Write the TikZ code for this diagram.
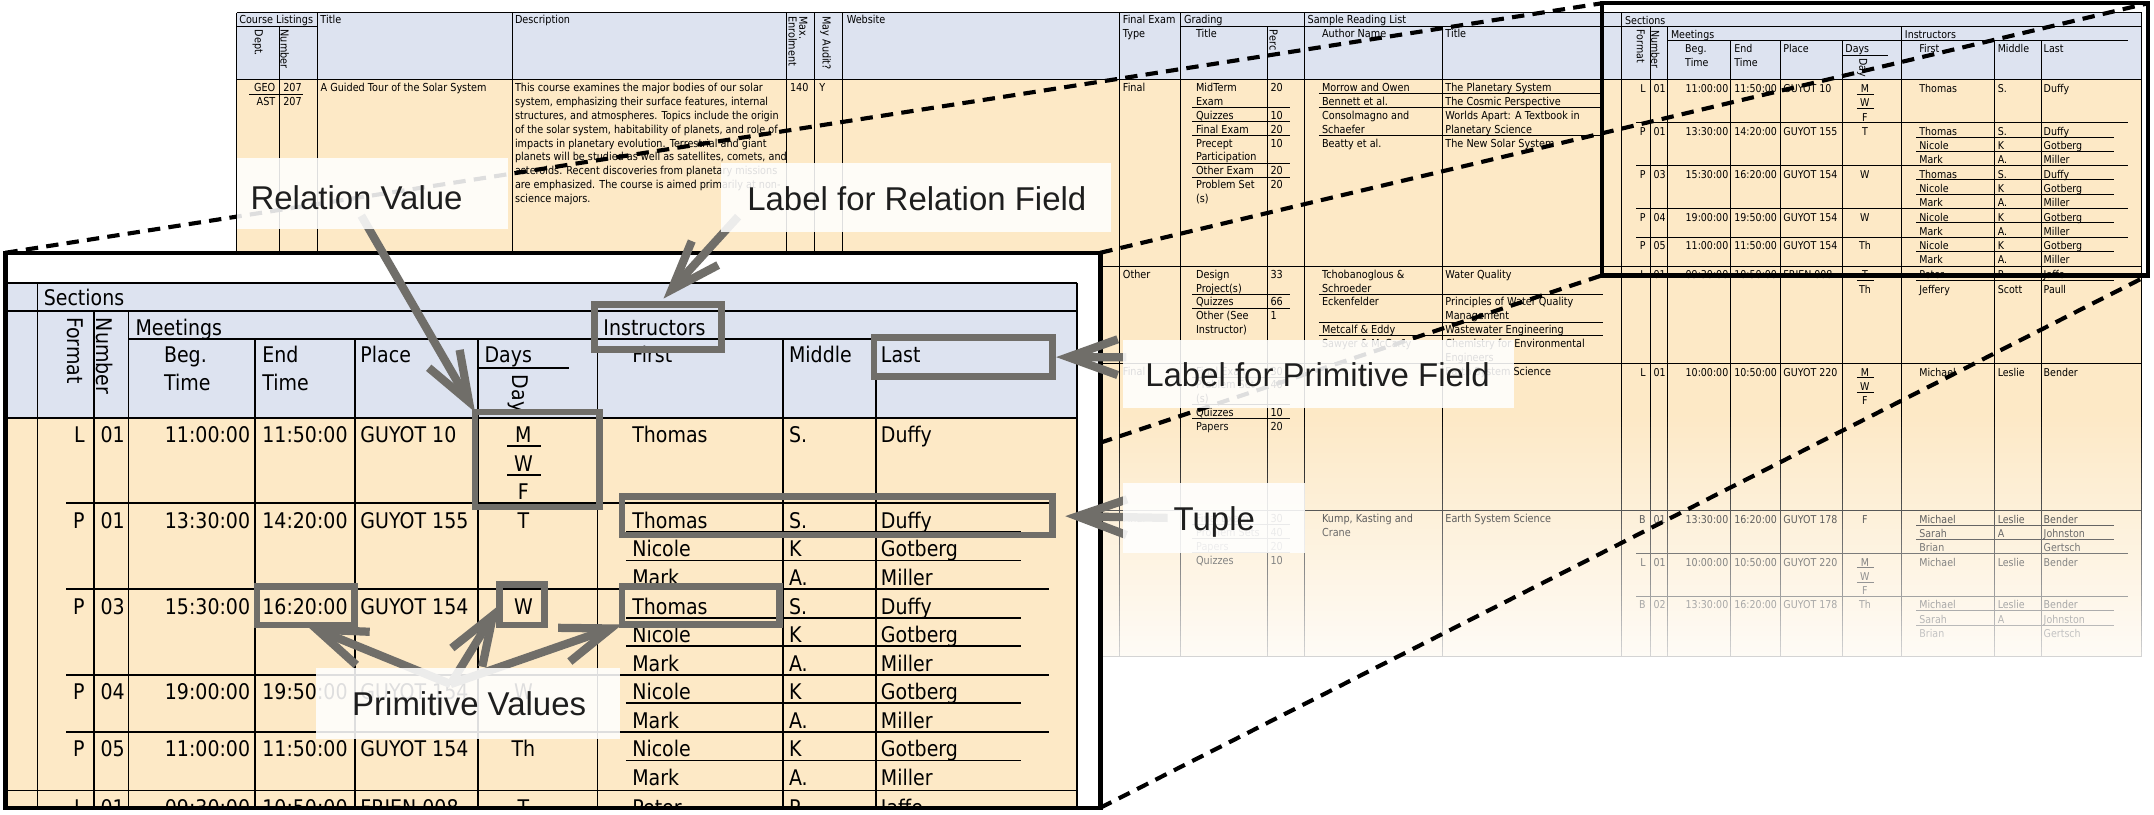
\documentclass[tikz,border=0pt]{standalone}
\usepackage{fontspec}
\setmainfont{Liberation Sans}
\newfontfamily\tabfont[FakeStretch=0.88]{DejaVu Sans}
\newfontfamily\lblfont{Liberation Sans}
\usetikzlibrary{arrows.meta,fit}
\definecolor{hdrblue}{RGB}{221,227,240}
\definecolor{roworange}{RGB}{253,233,198}
\definecolor{callgray}{RGB}{112,110,105}
\definecolor{labelink}{RGB}{30,30,30}

\newcounter{cellno}
\newcommand\tcell[4]{\stepcounter{cellno}\node[#1] (cell\arabic{cellno}) at (#2,#3) {#4};}
\newcommand\sectop[1]{304+(#1)*20.8}
\newcommand\secbase[1]{322.2+(#1)*20.8}
\newcommand\secrow[6]{%
  \tcell{pt,anchor=base east}{62}{{\secbase{#1}}}{#2}%
  \tcell{pt}{72.8}{{\secbase{#1}}}{#3}%
  \tcell{pt,anchor=base east}{182.5}{{\secbase{#1}}}{#4}%
  \tcell{pt}{190.6}{{\secbase{#1}}}{#5}%
  \tcell{pt}{262}{{\secbase{#1}}}{#6}}
\newcommand\dayat[2]{\tcell{pt,anchor=base}{381}{{\secbase{#1}}}{#2}}
\newcommand\instat[4]{\tcell{pt}{459.9}{{\secbase{#1}}}{#2}\tcell{pt}{574}{{\secbase{#1}}}{#3}\tcell{pt}{640.9}{{\secbase{#1}}}{#4}}
\newcommand\dayrule[1]{\draw[tl] (369.2,{\sectop{#1+1}}) -- (393.9,{\sectop{#1+1}});}
\newcommand\instrule[1]{\draw[tl] (455.6,{\sectop{#1+1}}) -- (743.2,{\sectop{#1+1}});}
\newcommand\secrule[1]{\draw[tl] (48.1,{\sectop{#1}}) -- (763.4,{\sectop{#1}});}
\newcommand\courserule[1]{\draw[tl] (0,{\sectop{#1}}) -- (784.1,{\sectop{#1}});}

% the Sections relation, drawn at panel size
\newcommand\sectionsblock{%
  \fill[hdrblue] (0,205.8) rectangle (784.1,304);
  \fill[roworange] (0,304) rectangle (784.1,1158);
  \draw[tl] (0,205.8) -- (784.1,205.8);
  \draw[tl] (0,226.4) -- (784.1,226.4);
  \draw[tl] (93.6,247) -- (763.5,247);
  \draw[tl] (347.9,267.9) -- (414,267.9);
  \draw[tl] (0,304) -- (784.1,304);
  \foreach \xx in {27.3,784.1} \draw[tl] (\xx,205.8) -- (\xx,1158);
  \foreach \xx in {68.4,93.6,434.9} \draw[tl] (\xx,226.4) -- (\xx,1158);
  \foreach \xx in {185.9,258.2,347.9,570,637.4} \draw[tl] (\xx,247) -- (\xx,1158);
  % header
  \tcell{pt}{31.5}{222.7}{Sections}
  \tcell{pt,anchor=west,rotate=-90}{54.5}{230.4}{Format}
  \tcell{pt,anchor=west,rotate=-90}{76}{231}{Number}
  \tcell{pt}{98.3}{244}{Meetings}
  \tcell{pt}{438.9}{244}{Instructors}
  \tcell{pt}{119}{264.2}{Beg.}
  \tcell{pt}{119}{284.3}{Time}
  \tcell{pt}{190.6}{264.2}{End}
  \tcell{pt}{190.6}{284.3}{Time}
  \tcell{pt}{262}{264.2}{Place}
  \tcell{pt}{352.3}{264.2}{Days}
  \tcell{pt,anchor=west,rotate=-90}{377}{272.5}{Day}
  \tcell{pt}{459.9}{264.2}{First}
  \tcell{pt}{574}{264.2}{Middle}
  \tcell{pt}{640.9}{264.2}{Last}
  % course 1
  \secrow{0}{L}{01}{11:00:00}{11:50:00}{GUYOT 10}
  \dayat{0}{M}\dayat{1}{W}\dayat{2}{F}\dayrule{0}\dayrule{1}
  \instat{0}{Thomas}{S.}{Duffy}
  \secrule{3}
  \secrow{3}{P}{01}{13:30:00}{14:20:00}{GUYOT 155}
  \dayat{3}{T}
  \instat{3}{Thomas}{S.}{Duffy}\instrule{3}
  \instat{4}{Nicole}{K}{Gotberg}\instrule{4}
  \instat{5}{Mark}{A.}{Miller}
  \secrule{6}
  \secrow{6}{P}{03}{15:30:00}{16:20:00}{GUYOT 154}
  \dayat{6}{W}
  \instat{6}{Thomas}{S.}{Duffy}\instrule{6}
  \instat{7}{Nicole}{K}{Gotberg}\instrule{7}
  \instat{8}{Mark}{A.}{Miller}
  \secrule{9}
  \secrow{9}{P}{04}{19:00:00}{19:50:00}{GUYOT 154}
  \dayat{9}{W}
  \instat{9}{Nicole}{K}{Gotberg}\instrule{9}
  \instat{10}{Mark}{A.}{Miller}
  \secrule{11}
  \secrow{11}{P}{05}{11:00:00}{11:50:00}{GUYOT 154}
  \dayat{11}{Th}
  \instat{11}{Nicole}{K}{Gotberg}\instrule{11}
  \instat{12}{Mark}{A.}{Miller}
  % course 2
  \courserule{13.05}
  \secrow{13.05}{L}{01}{09:30:00}{10:50:00}{FRIEN 008}
  \dayat{13.05}{T}\dayrule{13.05}\dayat{14.05}{Th}
  \instat{13.05}{Peter}{P.}{Jaffe}\instrule{13.05}
  \instat{14.05}{Jeffery}{Scott}{Paull}
  % course 3
  \courserule{19.85}
  \secrow{19.85}{L}{01}{10:00:00}{10:50:00}{GUYOT 220}
  \dayat{19.85}{M}\dayat{20.85}{W}\dayat{21.85}{F}\dayrule{19.85}\dayrule{20.85}
  \instat{19.85}{Michael}{Leslie}{Bender}
  % course 4
  \courserule{30.15}
  \secrow{30.15}{B}{01}{13:30:00}{16:20:00}{GUYOT 178}
  \dayat{30.15}{F}
  \instat{30.15}{Michael}{Leslie}{Bender}\instrule{30.15}
  \instat{31.15}{Sarah}{A}{Johnston}\instrule{31.15}
  \instat{32.15}{Brian}{}{Gertsch}
  \secrule{33.15}
  \secrow{33.15}{L}{01}{10:00:00}{10:50:00}{GUYOT 220}
  \dayat{33.15}{M}\dayat{34.15}{W}\dayat{35.15}{F}\dayrule{33.15}\dayrule{34.15}
  \instat{33.15}{Michael}{Leslie}{Bender}
  \secrule{36.15}
  \secrow{36.15}{B}{02}{13:30:00}{16:20:00}{GUYOT 178}
  \dayat{36.15}{Th}
  \instat{36.15}{Michael}{Leslie}{Bender}\instrule{36.15}
  \instat{37.15}{Sarah}{A}{Johnston}\instrule{37.15}
  \instat{38.15}{Brian}{}{Gertsch}}

\begin{document}
\begin{tikzpicture}[x=0.5pt, y=-0.5pt,
    tl/.style={line width=0.35pt},
    bt/.style={font=\tabfont\fontsize{4}{4.85}\selectfont, inner sep=0pt, anchor=base west},
    pt/.style={font=\tabfont\fontsize{7.85}{10}\selectfont, inner sep=0pt, anchor=base west},
    frame/.style={draw, line width=1.6pt, inner sep=0pt, outer sep=0pt},
    zoomline/.style={line width=1.5pt, dash pattern=on 4.5pt off 3pt},
    callbox/.style={draw=callgray, line width=2.4pt, inner sep=0pt, outer sep=0pt},
    callarrow/.style={draw=callgray, line width=3pt, -{Straight Barb[length=18pt, width=13pt]}},
    lblbox/.style={fill=white, fill opacity=0.87, inner sep=0pt, outer sep=0pt},
    lbltext/.style={font=\lblfont\fontsize{12}{14}\selectfont, text=labelink, inner sep=0pt, anchor=base west}]
  \useasboundingbox (0,0) rectangle (1568,592.6);

  % background table
  \fill[hdrblue] (172.4,9.2) rectangle (1180.7,58.2);
  \fill[roworange] (172.4,58.2) rectangle (1180.7,485);
  \foreach \xx in {172.4,230.9,373,572.8,593.1,613.5,814.8,859.6,949.9} \draw[tl] (\xx,9.2) -- (\xx,485);
  \foreach \xx in {203.1,922.5,1049.8} \draw[tl] (\xx,19.6) -- (\xx,485);
  \draw[tl] (172.4,9.2) -- (1180.7,9.2);
  \draw[tl] (172.4,19.6) -- (230.9,19.6);
  \draw[tl] (859.6,19.6) -- (1180.7,19.6);
  \foreach \yy in {58.2,194,264.5,371.8} \draw[tl] (172.4,\yy) -- (1180.7,\yy);
  % header
  \tcell{bt}{173.8}{17.4}{Course Listings}
  \tcell{bt,anchor=west,rotate=-90}{187.6}{21.2}{Dept.}
  \tcell{bt,anchor=west,rotate=-90}{207.2}{21.2}{Number}
  \tcell{bt}{232.9}{17.4}{Title}
  \tcell{bt}{374.5}{17.4}{Description}
  \tcell{bt,anchor=west,rotate=-90,align=left,font=\tabfont\fontsize{4}{3.9}\selectfont}{580.8}{11.5}{Max.\\Enrolment}
  \tcell{bt,anchor=west,rotate=-90}{601}{11.5}{May Audit?}
  \tcell{bt}{616}{17.4}{Website}
  \tcell{bt}{817}{17.4}{Final Exam}
  \tcell{bt}{817}{27.2}{Type}
  \tcell{bt}{861.5}{17.4}{Grading}
  \tcell{bt}{870.3}{27.2}{Title}
  \tcell{bt,anchor=west,rotate=-90}{927}{21.4}{Perc}
  \tcell{bt}{951.5}{17.4}{Sample Reading List}
  \tcell{bt}{962}{27.2}{Author Name}
  \tcell{bt}{1051.8}{27.2}{Title}
  % course 1
  \tcell{bt,anchor=base east}{200.8}{66.7}{GEO}
  \tcell{bt,anchor=base east}{200.8}{76.8}{AST}
  \draw[tl] (181.3,68.5) -- (220.3,68.5);
  \tcell{bt}{205.8}{66.7}{207}
  \tcell{bt}{205.8}{76.8}{207}
  \tcell{bt}{233}{66.7}{A Guided Tour of the Solar System}
  \foreach \txt [count=\k from 0] in {This course examines the major bodies of our solar,
      {system, emphasizing their surface features, internal},
      {structures, and atmospheres. Topics include the origin},
      {of the solar system, habitability of planets, and role of},
      impacts in planetary evolution. Terrestrial and giant,
      {planets will be studied as well as satellites, comets, and},
      asteroids. Recent discoveries from planetary missions,
      are emphasized. The course is aimed primarily at non-,
      science majors.}
    \tcell{bt}{374.5}{{66.7+\k*10.1}}{\txt};
  \tcell{bt}{574.7}{66.7}{140}
  \tcell{bt}{596}{66.7}{Y}
  \tcell{bt}{817}{66.7}{Final}
  \tcell{bt}{870.3}{66.7}{MidTerm}\tcell{bt}{924.5}{66.7}{20}
  \tcell{bt}{870.3}{76.8}{Exam}
  \tcell{bt}{870.3}{86.9}{Quizzes}\tcell{bt}{924.5}{86.9}{10}
  \tcell{bt}{870.3}{97}{Final Exam}\tcell{bt}{924.5}{97}{20}
  \tcell{bt}{870.3}{107.1}{Precept}\tcell{bt}{924.5}{107.1}{10}
  \tcell{bt}{870.3}{117.2}{Participation}
  \tcell{bt}{870.3}{127.3}{Other Exam}\tcell{bt}{924.5}{127.3}{20}
  \tcell{bt}{870.3}{137.4}{Problem Set}\tcell{bt}{924.5}{137.4}{20}
  \tcell{bt}{870.3}{147.5}{(s)}
  \foreach \yy in {78.4,88.5,98.6,118.8,128.9} \draw[tl] (868,\yy) -- (939,\yy);
  \tcell{bt}{962}{66.7}{Morrow and Owen}\tcell{bt}{1051.8}{66.7}{The Planetary System}
  \tcell{bt}{962}{76.8}{Bennett et al.}\tcell{bt}{1051.8}{76.8}{The Cosmic Perspective}
  \tcell{bt}{962}{86.9}{Consolmagno and}\tcell{bt}{1051.8}{86.9}{Worlds Apart: A Textbook in}
  \tcell{bt}{962}{97}{Schaefer}\tcell{bt}{1051.8}{97}{Planetary Science}
  \tcell{bt}{962}{107.1}{Beatty et al.}\tcell{bt}{1051.8}{107.1}{The New Solar System}
  \foreach \yy in {68.3,78.4,98.6} \draw[tl] (960,\yy) -- (1170,\yy);
  % course 2
  \tcell{bt}{817}{202.5}{Other}
  \tcell{bt}{870.3}{202.5}{Design}\tcell{bt}{924.5}{202.5}{33}
  \tcell{bt}{870.3}{212.6}{Project(s)}
  \tcell{bt}{870.3}{222.7}{Quizzes}\tcell{bt}{924.5}{222.7}{66}
  \tcell{bt}{870.3}{232.8}{Other (See}\tcell{bt}{924.5}{232.8}{1}
  \tcell{bt}{870.3}{242.9}{Instructor)}
  \foreach \yy in {214.2,224.3} \draw[tl] (868,\yy) -- (939,\yy);
  \tcell{bt}{962}{202.5}{Tchobanoglous \&}\tcell{bt}{1051.8}{202.5}{Water Quality}
  \tcell{bt}{962}{212.6}{Schroeder}
  \tcell{bt}{962}{222.7}{Eckenfelder}\tcell{bt}{1051.8}{222.7}{Principles of Water Quality}
  \tcell{bt}{1051.8}{232.8}{Management}
  \tcell{bt}{962}{242.9}{Metcalf \& Eddy}\tcell{bt}{1051.8}{242.9}{Wastewater Engineering}
  \tcell{bt}{962}{253}{Sawyer \& McCarty}\tcell{bt}{1051.8}{253}{Chemistry for Environmental}
  \tcell{bt}{1051.8}{263.1}{Engineers}
  \foreach \yy in {214.2,234.4,244.5} \draw[tl] (960,\yy) -- (1170,\yy);
  % course 3
  \tcell{bt}{817}{273}{Final}
  \tcell{bt}{870.3}{273}{Final Exam}\tcell{bt}{924.5}{273}{30}
  \tcell{bt}{870.3}{283.1}{Problem Set}\tcell{bt}{924.5}{283.1}{40}
  \tcell{bt}{870.3}{293.2}{(s)}
  \tcell{bt}{870.3}{303.3}{Quizzes}\tcell{bt}{924.5}{303.3}{10}
  \tcell{bt}{870.3}{313.4}{Papers}\tcell{bt}{924.5}{313.4}{20}
  \foreach \yy in {274.6,294.8,304.9} \draw[tl] (868,\yy) -- (939,\yy);
  \tcell{bt}{1051.8}{273}{Earth System Science}
  % course 4
  \tcell{bt}{817}{380.3}{Final}
  \tcell{bt}{870.3}{380.3}{Final Exam}\tcell{bt}{924.5}{380.3}{30}
  \tcell{bt}{870.3}{390.4}{Problem Sets}\tcell{bt}{924.5}{390.4}{40}
  \tcell{bt}{870.3}{400.5}{Papers}\tcell{bt}{924.5}{400.5}{20}
  \tcell{bt}{870.3}{410.6}{Quizzes}\tcell{bt}{924.5}{410.6}{10}
  \foreach \yy in {381.9,392,402.1} \draw[tl] (868,\yy) -- (939,\yy);
  \tcell{bt}{962}{380.3}{Kump, Kasting and}\tcell{bt}{1051.8}{380.3}{Earth System Science}
  \tcell{bt}{962}{390.4}{Crane}
  % sections, small
  \begin{scope}[shift={(1167.05,-93.8)}, scale=0.5, transform shape]
    \sectionsblock
  \end{scope}
  \draw[tl] (172.4,478) -- (1559.1,478);

  % fade out
  \foreach \i in {0,...,47} {
    \pgfmathsetmacro\op{0.84*(\i+0.5)/48}
    \fill[white, fill opacity=\op] (803,{300+\i*3.71}) rectangle (1568,{303.71+\i*3.71});
  }
  \fill[white] (803,478.5) rectangle (1568,592.6);

  % zoom source and panel
  \node[frame, fit={(1166,2.4) (1563.5,200.5)}] (src) {};
  \node[inner sep=0pt, outer sep=0pt, fit={(4,184) (801,588)}] (zoompanel) {};
  \draw[zoomline] (zoompanel.north west) -- (src.north west);
  \draw[zoomline] (zoompanel.north east) -- (src.north east);
  \draw[zoomline] (zoompanel.south east) -- (src.south east);
  \draw[zoomline] (zoompanel.south west) -- (src.south west);
  \fill[white] (zoompanel.north west) rectangle (zoompanel.south east);
  \begin{scope}[tl/.style={line width=0.65pt}]
    \clip (zoompanel.north west) rectangle (zoompanel.south east);
    \sectionsblock
  \end{scope}
  \draw[frame] (zoompanel.north west) rectangle (zoompanel.south east);

  % callouts
  \node[callbox, fit={(345.8,300) (436.2,369)}] (daysbox) {};
  \node[callbox, fit={(432.9,221.8) (525,254.5)}] (instbox) {};
  \node[callbox, fit={(636.3,245.9) (766,274)}] (lastbox) {};
  \node[callbox, fit={(452.9,361.5) (766,389.6)}] (tuplebox) {};
  \node[callbox, fit={(452.9,427.1) (567.6,454.6)}] (thomasbox) {};
  \node[callbox, fit={(187.2,427) (258.2,455)}] (endbox) {};
  \node[callbox, fit={(363.5,425.7) (396.5,455)}] (wbox) {};

  \coordinate (rvtail) at (263,157);
  \coordinate (rftail) at (537.3,157.7);
  \coordinate (pftail) at (820,260);
  \coordinate (tptail) at (850,377);
  \coordinate (pvroot) at (328,498);
  \draw[callarrow] (rvtail) -- (daysbox.north west);
  \draw[callarrow, shorten >=3pt] (rftail) -- (instbox.north);
  \draw[callarrow, shorten >=1.4pt] (pftail) -- (lastbox.east);
  \draw[callarrow, shorten >=4.7pt] (tptail) -- (tuplebox.east);
  \draw[callarrow] (pvroot) -- (endbox.south);
  \draw[callarrow] (pvroot) -- (wbox.west);
  \draw[callarrow] (pvroot) -- (thomasbox.south west);

  % labels
  \node[lblbox, fit={(172.7,115.2) (370.1,167)}] (relvalbox) {};
  \node[lbltext] (relval) at (182,152.6) {Relation Value};
  \node[lblbox, fit={(524.8,118.9) (809,168.7)}] (relfieldbox) {};
  \node[lbltext] (relfield) at (543.6,152.9) {Label for Relation Field};
  \node[lblbox, fit={(817.7,247.5) (1101.9,297.3)}] (primfieldbox) {};
  \node[lbltext] (primfield) at (833.3,281.5) {Label for Primitive Field};
  \node[lblbox, fit={(817.7,351.9) (950.3,402.9)}] (tuplelblbox) {};
  \node[lbltext] (tuplelbl) at (854,386.5) {Tuple};
  \node[lblbox, fit={(230,486) (451,538)}] (primvalbox) {};
  \node[lbltext] (primval) at (256,520.7) {Primitive Values};
\end{tikzpicture}
\end{document}
